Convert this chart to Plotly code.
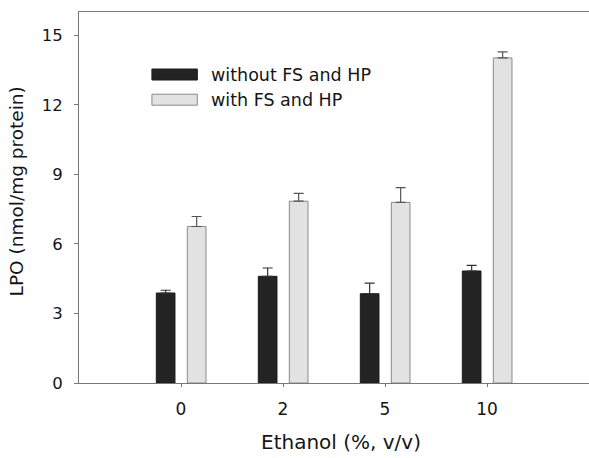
import plotly.graph_objects as go

categories = ["0", "2", "5", "10"]
without_vals = [3.88, 4.60, 3.85, 4.83]
without_err = [0.12, 0.36, 0.46, 0.24]
with_vals = [6.75, 7.84, 7.79, 14.02]
with_err = [0.43, 0.34, 0.64, 0.26]
series_names = ["without FS and HP", "with FS and HP"]
yticks = [0, 3, 6, 9, 12, 15]
x_title = "Ethanol (%, v/v)"
y_title = "LPO (nmol/mg protein)"

DARK = "#232323"
LIGHT = "#e2e2e2"
FONT = "DejaVu Sans, Liberation Sans, Arial, sans-serif"
TXT = "#151515"

fig = go.Figure()
fig.add_trace(go.Bar(
    x=categories, y=without_vals, name=series_names[0],
    width=0.183, offset=-0.242,
    marker=dict(color=DARK, line=dict(color="#1a1a1a", width=1)),
    error_y=dict(type="data", array=without_err, arrayminus=[0]*4, symmetric=False,
                 color="#333333", thickness=1.2, width=5),
))
fig.add_trace(go.Bar(
    x=categories, y=with_vals, name=series_names[1],
    width=0.183, offset=0.062,
    marker=dict(color=LIGHT, line=dict(color="#8a8a8a", width=1)),
    error_y=dict(type="data", array=with_err, arrayminus=[0]*4, symmetric=False,
                 color="#555555", thickness=1.2, width=5),
))

# legend drawn as swatches + labels
legend_y = [0.8315, 0.7636]
legend_colors = [(DARK, "#1a1a1a"), (LIGHT, "#8a8a8a")]
for name, ly, (fc, lc) in zip(series_names, legend_y, legend_colors):
    fig.add_shape(type="rect", xref="paper", yref="paper",
                  x0=0.143, x1=0.232, y0=ly - 0.0148, y1=ly + 0.0148,
                  fillcolor=fc, line=dict(color=lc, width=1))
    fig.add_annotation(text=name, xref="paper", yref="paper", x=0.2554, y=ly,
                       xanchor="left", yanchor="middle", showarrow=False,
                       font=dict(family=FONT, size=17.5, color=TXT))

# axis titles
fig.add_annotation(text=x_title, xref="paper", yref="paper", x=0.513, y=-0.158,
                   xanchor="center", yanchor="middle", showarrow=False,
                   font=dict(family=FONT, size=20, color=TXT))
fig.add_annotation(text=y_title, xref="paper", yref="paper", x=-0.1228, y=0.5175,
                   xanchor="center", yanchor="middle", showarrow=False, textangle=-90,
                   font=dict(family=FONT, size=18.5, color=TXT))

fig.update_layout(
    width=589, height=458,
    margin=dict(l=79, r=0, t=12, b=75),
    paper_bgcolor="white", plot_bgcolor="white",
    barmode="overlay", showlegend=False,
    font=dict(family=FONT, color=TXT),
    xaxis=dict(type="category", range=[-1, 4], showline=True, linecolor="#777777",
               linewidth=1, mirror=True, ticks="outside", ticklen=3, tickcolor="#777777",
               tickfont=dict(size=17), ticklabelstandoff=8, showgrid=False, zeroline=False),
    yaxis=dict(range=[0, 16], tickvals=yticks, showline=True, linecolor="#777777",
               linewidth=1, ticks="outside", ticklen=4, tickcolor="#777777",
               tickfont=dict(size=16.5), ticklabelstandoff=8, showgrid=False, zeroline=False),
)

fig.write_html("out.html")
